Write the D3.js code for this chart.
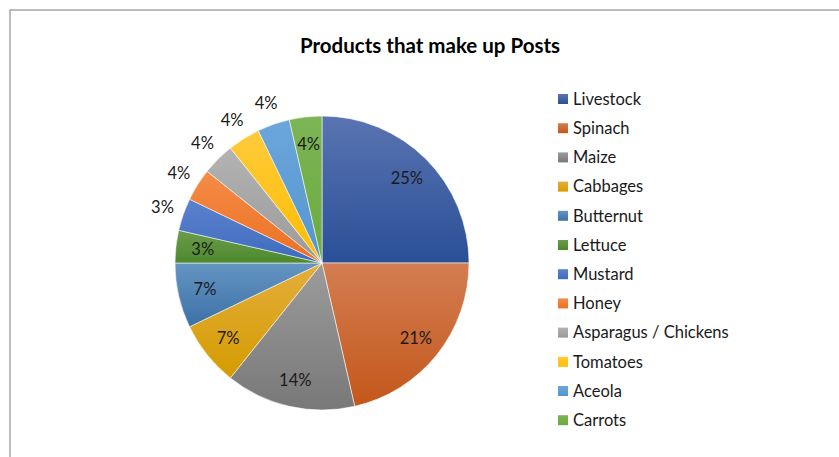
<!DOCTYPE html>
<html>
<head>
<meta charset="utf-8">
<script src="https://cdn.jsdelivr.net/npm/d3@7"></script>
<style>
  body { margin: 0; background: #fff; }
  svg { display: block; font-family: Lato, "Open Sans", sans-serif; }
</style>
</head>
<body>
<svg id="chart"></svg>
<script>
const categories = ["Livestock", "Spinach", "Maize", "Cabbages", "Butternut", "Lettuce",
                    "Mustard", "Honey", "Asparagus / Chickens", "Tomatoes", "Aceola", "Carrots"];
const counts = [7, 6, 4, 2, 2, 1, 1, 1, 1, 1, 1, 1];
const percentLabels = ["25%", "21%", "14%", "7%", "7%", "3%", "3%", "4%", "4%", "4%", "4%", "4%"];
const title = "Products that make up Posts";

const width = 839;
const height = 457;
const cx = 322, cy = 263, radius = 147;
// top / bottom colour of each slice gradient
const colors = [
  ["#5a74b1", "#2a4f97"], ["#d47d52", "#c3571a"], ["#9c9c9c", "#787878"],
  ["#e4ae3c", "#d49c00"], ["#6494c2", "#3c71a7"], ["#6c9c4c", "#4d892d"],
  ["#5c82cd", "#3e6bbf"], ["#f48c48", "#ed6f20"], ["#b3b3b3", "#9a9a9a"],
  ["#ffca3c", "#fdbd00"], ["#6ca6db", "#5495cf"], ["#7db556", "#69aa3e"]
];
const outside = new Set(["Mustard", "Honey", "Asparagus / Chickens", "Tomatoes", "Aceola"]);

const svg = d3.select("#chart").attr("width", width).attr("height", height);

// chart frame
svg.append("rect")
  .attr("x", 10).attr("y", 10)
  .attr("width", width + 20).attr("height", height + 20)
  .attr("fill", "none").attr("stroke", "#a6a6a6").attr("stroke-width", 1.5);

svg.append("text")
  .attr("x", 430).attr("y", 53)
  .attr("text-anchor", "middle")
  .style("font-size", "20.5px").style("font-weight", "bold").style("fill", "#000")
  .text(title);

// gradients
const defs = svg.append("defs");
colors.forEach((c, i) => {
  const g = defs.append("linearGradient").attr("id", "grad" + i)
    .attr("x1", 0).attr("y1", 0).attr("x2", 0).attr("y2", 1);
  g.append("stop").attr("offset", "0%").attr("stop-color", c[0]);
  g.append("stop").attr("offset", "100%").attr("stop-color", c[1]);
});

const data = categories.map((name, i) => ({ name, value: counts[i], label: percentLabels[i], i }));

const pie = d3.pie().value(d => d.value).sort(null);
const arc = d3.arc().innerRadius(0).outerRadius(radius);
const inArc = d3.arc().innerRadius(120).outerRadius(120);
const outArc = d3.arc().innerRadius(169).outerRadius(169);

const g = svg.append("g").attr("transform", `translate(${cx},${cy})`);

const arcs = pie(data);

g.selectAll("path")
  .data(arcs)
  .enter()
  .append("path")
  .attr("d", arc)
  .attr("fill", d => `url(#grad${d.data.i})`)
  .attr("stroke", "#fff")
  .attr("stroke-opacity", 0.7)
  .attr("stroke-width", 0.8);

g.selectAll(".label")
  .data(arcs)
  .enter()
  .append("text")
  .attr("class", "label")
  .attr("transform", d => `translate(${(outside.has(d.data.name) ? outArc : inArc).centroid(d)})`)
  .attr("text-anchor", "middle")
  .attr("dy", "0.35em")
  .style("font-size", "16.5px").style("fill", "#1a1a1a")
  .text(d => d.data.label);

// legend
const legend = svg.append("g").attr("transform", "translate(558,99)");
const rows = legend.selectAll("g")
  .data(data)
  .enter()
  .append("g")
  .attr("transform", (d, i) => `translate(0,${i * 29.2})`);

rows.append("rect")
  .attr("x", 0).attr("y", -5)
  .attr("width", 10).attr("height", 10)
  .attr("fill", d => `url(#grad${d.i})`);

rows.append("text")
  .attr("x", 15).attr("dy", "0.35em")
  .style("font-size", "16.5px").style("fill", "#1a1a1a")
  .text(d => d.name);
</script>
</body>
</html>
